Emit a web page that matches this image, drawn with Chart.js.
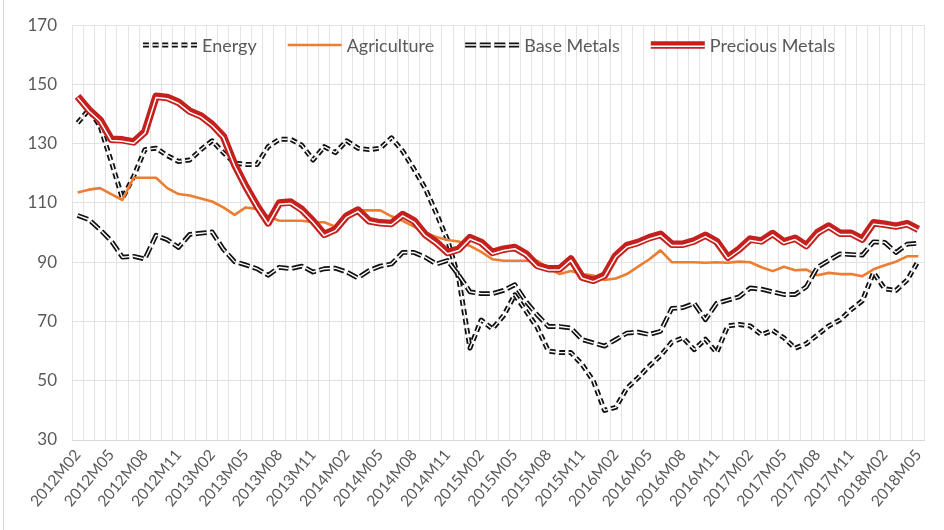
<!DOCTYPE html>
<html>
<head>
<meta charset="utf-8">
<script src="https://cdn.jsdelivr.net/npm/chart.js@4.4.0/dist/chart.umd.min.js"></script>
<style>
  html, body { margin: 0; padding: 0; background: #fff; }
  #wrap { width: 944px; height: 530px; position: relative; }
</style>
</head>
<body>
<div id="wrap"><canvas id="commodity-chart"></canvas></div>
<script>
// monthly categories 2012M02 .. 2018M05
const months = [];
for (let y = 2012; y <= 2018; y++) {
  for (let m = 1; m <= 12; m++) {
    if (y === 2012 && m < 2) continue;
    if (y === 2018 && m > 5) break;
    months.push(`${y}M${String(m).padStart(2, "0")}`);
  }
}

const energy = [
  137, 141.5, 136, 124, 111.5, 119, 128, 128.5, 126, 124, 124.5, 128, 131, 127, 123.5, 123, 123, 129, 131.5, 131.5,
  129.5, 124.5, 129, 127, 131, 128.5, 128, 128.5, 132, 127.5, 121.5, 115, 106.5, 97.5, 84.5, 61, 70.5, 67.5, 72, 79,
  73.5, 68, 60, 59.5, 59.5, 55.5, 50, 40, 41, 47.5, 51, 55, 58.5, 63, 64.5, 60.5, 64, 59.5, 68.5, 69,
  68.5, 65.5, 67, 64.5, 61, 62.5, 65.5, 68.5, 70.5, 74, 77, 86.5, 81, 80.5, 84, 90.5
];
const agriculture = [
  113.5, 114.5, 115, 113, 111, 118.5, 118.5, 118.5, 115, 113, 112.5, 111.5, 110.5, 108.5, 106, 108.5, 108, 105.5, 104, 104,
  104, 103.5, 103.5, 102, 105.5, 107.5, 107.5, 107.5, 105.5, 104, 102, 100, 98.5, 97.5, 97, 95.5, 93.5, 91, 90.5, 90.5,
  90.5, 90.5, 88, 86, 87, 86, 85.5, 84, 84.5, 86, 88.5, 91, 94, 90, 90, 90, 89.8, 90, 89.8, 90.2,
  90, 88.3, 87, 88.5, 87.3, 87.5, 85.6, 86.4, 86, 86, 85.3, 87.6, 89, 90.2, 92, 92
];
const baseMetals = [
  105.8, 104.4, 101, 97.2, 91.7, 92, 91.1, 99.1, 97.6, 95, 99.4, 99.8, 100.2, 94.4, 90.2, 89.1, 87.8, 85.6, 88.3, 87.8,
  88.7, 86.7, 87.8, 88, 86.7, 84.7, 87.2, 88.7, 89.4, 93.3, 93.3, 91.7, 89.4, 90.6, 85.6, 80, 79.4, 79.4, 80.5, 82.4,
  76.7, 72.2, 68.3, 68.3, 67.8, 63.9, 62.8, 61.7, 63.9, 66.1, 66.4, 65.6, 66.7, 74.4, 74.7, 76.1, 70.6, 76.1, 77.2, 78.3,
  81.3, 80.9, 80, 79.1, 79.1, 81.7, 88.3, 90.6, 92.8, 92.6, 92.4, 96.9, 96.7, 93.3, 96.1, 96.4
];
const preciousMetals = [
  146, 141.5, 138, 131.5, 131.3, 130.6, 134, 146, 145.6, 144, 141, 139.4, 136.5, 132.5, 123, 115.6, 109, 103.3, 110, 110.3,
  107.8, 103.9, 99.4, 101.1, 105.6, 107.6, 104, 103.3, 103.1, 106.1, 104, 99.4, 96.7, 93.3, 94.4, 98.3, 96.7, 93.3, 94.4, 95,
  92.8, 88.9, 87.8, 87.8, 91.1, 85, 83.9, 85.6, 92.2, 95.6, 96.7, 98.3, 99.4, 96.1, 96.1, 97.2, 99.1, 97, 91.7, 94.4,
  97.8, 97.2, 99.7, 96.9, 98.1, 95.6, 100, 102.2, 99.8, 99.8, 97.8, 103.3, 102.8, 102.2, 103, 101.1
];
const yTicks = [30, 50, 70, 90, 110, 130, 150, 170];

const seriesNames = ["Energy", "Agriculture", "Base Metals", "Precious Metals"];
const seriesData = [energy, agriculture, baseMetals, preciousMetals];

// line looks: outer stroke plus optional white inner stroke (double lines)
const looks = [
  { color: "#111111", width: 5, dash: [6, 3.6], inner: 1.4, shift: 0 },
  { color: "#ED7D31", width: 2.6, dash: [], inner: 0, shift: 0 },
  { color: "#111111", width: 4.8, dash: [11, 3.6], inner: 1.4, shift: 0 },
  { color: "#C4211E", width: 7.5, dash: [], inner: 1.5, shift: 1.3 },
];

const datasets = [];
seriesNames.forEach((name, i) => {
  const look = looks[i];
  const order = (seriesNames.length - i) * 2; // later series drawn on top
  datasets.push({
    label: name,
    data: seriesData[i],
    borderColor: look.color,
    borderWidth: look.width,
    borderDash: look.dash,
    borderJoinStyle: "round",
    pointRadius: 0,
    tension: 0,
    order,
  });
  if (look.inner) {
    datasets.push({
      label: name + " inner",
      data: seriesData[i],
      borderColor: "#ffffff",
      borderWidth: look.inner,
      borderDash: look.dash,
      borderJoinStyle: "round",
      pointRadius: 0,
      tension: 0,
      order: order - 1,
      shift: look.shift,
    });
  }
});

const drawSymbol = (ctx, look, x0, x1, y) => {
  ctx.save();
  ctx.lineCap = "butt";
  ctx.strokeStyle = look.color;
  ctx.lineWidth = look.width;
  ctx.setLineDash(look.dash);
  ctx.beginPath();
  ctx.moveTo(x0, y);
  ctx.lineTo(x1, y);
  ctx.stroke();
  if (look.inner) {
    ctx.strokeStyle = "#ffffff";
    ctx.lineWidth = look.inner;
    ctx.beginPath();
    ctx.moveTo(x0, y + look.shift);
    ctx.lineTo(x1, y + look.shift);
    ctx.stroke();
  }
  ctx.restore();
};

const shiftPlugin = {
  id: "innerShift",
  beforeDatasetDraw(chart, args) {
    const ds = chart.data.datasets[args.index];
    chart.ctx.save();
    if (ds.shift) chart.ctx.translate(0, ds.shift);
  },
  afterDatasetDraw(chart) {
    chart.ctx.restore();
  },
};

const legendPlugin = {
  id: "topLegend",
  afterDraw(chart) {
    const ctx = chart.ctx;
    ctx.save();
    ctx.font = "18px Lato";
    ctx.fillStyle = "#595959";
    ctx.textBaseline = "middle";
    const symW = 54, symGap = 5, itemGap = 31;
    const widths = seriesNames.map((n) => symW + symGap + ctx.measureText(n).width);
    const total = widths.reduce((a, b) => a + b, 0) + itemGap * (widths.length - 1);
    let x = 489 - total / 2;
    const y = 45;
    seriesNames.forEach((n, i) => {
      drawSymbol(ctx, looks[i], x, x + symW, y);
      ctx.fillText(n, x + symW + symGap, y + 1);
      x += widths[i] + itemGap;
    });
    // chart frame edge on the left
    ctx.strokeStyle = "#d9d9d9";
    ctx.lineWidth = 1;
    ctx.beginPath();
    ctx.moveTo(3.5, 0);
    ctx.lineTo(3.5, 530);
    ctx.stroke();
    ctx.restore();
  },
};

new Chart(document.getElementById("commodity-chart"), {
  type: "line",
  data: { labels: months, datasets },
  plugins: [shiftPlugin, legendPlugin],
  options: {
    responsive: true,
    maintainAspectRatio: false,
    animation: false,
    layout: { padding: { left: 12, right: 20, top: 20, bottom: 0 } },
    plugins: { legend: { display: false }, tooltip: { enabled: false } },
    scales: {
      x: {
        offset: true,
        afterFit: (scale) => { scale.height = 90; },
        grid: { offset: true, color: "#e3e3e3", drawTicks: false },
        border: { color: "#d9d9d9" },
        ticks: {
          autoSkip: false,
          minRotation: 50,
          maxRotation: 50,
          padding: 6,
          color: "#595959",
          font: { family: "Lato", size: 15.5 },
          callback: (v, i) => (i % 3 === 0 ? months[i] : ""),
        },
      },
      y: {
        min: yTicks[0],
        max: yTicks[yTicks.length - 1],
        afterFit: (scale) => { scale.width = 60; },
        afterBuildTicks: (scale) => { scale.ticks = yTicks.map((v) => ({ value: v })); },
        grid: { color: "#e3e3e3", drawTicks: false },
        border: { display: false },
        ticks: {
          padding: 15,
          color: "#595959",
          font: { family: "Lato", size: 17 },
        },
      },
    },
  },
});
</script>
</body>
</html>
